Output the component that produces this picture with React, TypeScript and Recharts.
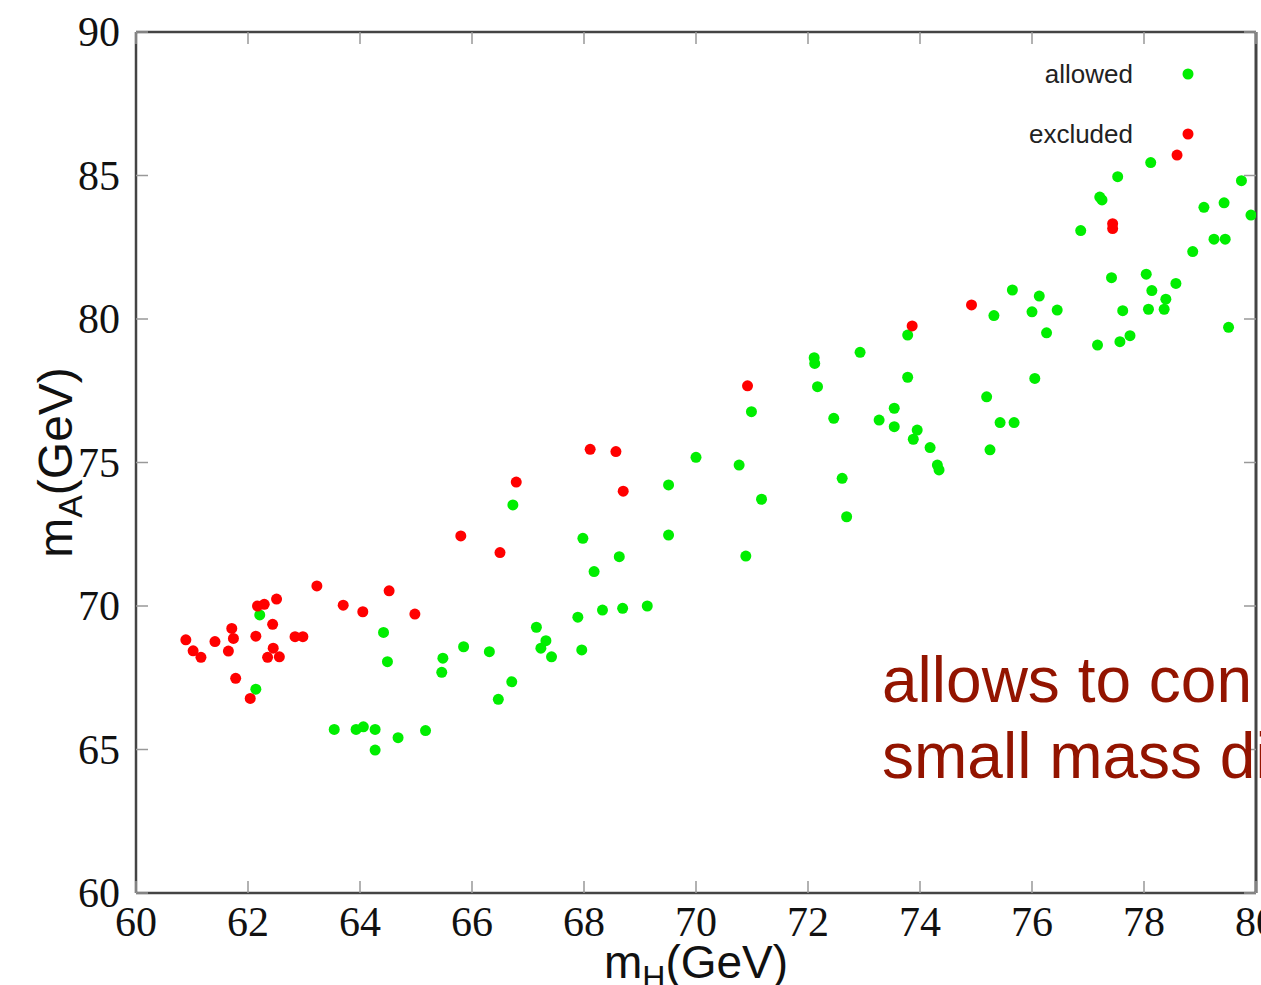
import React from "react";
import { ScatterChart, Scatter, XAxis, YAxis, Legend, Label } from "recharts";

// m_H (GeV) / m_A (GeV)
const allowedMH = [
  62.21, 62.14, 63.54, 63.93, 64.06, 64.27, 64.27, 64.68, 65.17, 64.42,
  64.49, 65.48, 65.46, 65.85, 66.31, 66.47, 66.71, 66.73, 67.15, 67.32,
  67.23, 67.42, 67.96, 67.89, 67.98, 68.18, 68.33, 68.63, 68.69, 69.13,
  69.51, 69.51, 70.0, 70.77, 70.89, 70.99, 71.17, 72.11, 72.12, 72.17,
  72.46, 72.61, 72.69, 72.93, 73.27, 73.54, 73.54, 73.78, 73.78, 73.95,
  73.88, 74.18, 74.31, 74.34, 75.19, 75.25, 75.32, 75.43, 75.65, 75.68,
  76.0, 76.05, 76.13, 76.26, 76.45, 76.87, 77.17, 77.21, 77.25, 77.42,
  77.53, 77.57, 77.62, 77.75, 78.04, 78.08, 78.12, 78.14, 78.36, 78.39,
  78.57, 78.87, 79.07, 79.25, 79.43, 79.45, 79.51, 79.74, 79.91,
];
const allowedMA = [
  69.69, 67.1, 65.7, 65.7, 65.79, 65.7, 64.98, 65.41, 65.66, 69.08,
  68.06, 68.18, 67.69, 68.58, 68.41, 66.75, 67.36, 73.52, 69.26, 68.79,
  68.53, 68.23, 68.47, 69.61, 72.36, 71.2, 69.86, 71.72, 69.92, 70.0,
  74.22, 72.47, 75.18, 74.91, 71.74, 76.77, 73.72, 78.65, 78.45, 77.64,
  76.54, 74.45, 73.11, 78.84, 76.48, 76.89, 76.25, 79.44, 77.97, 76.13,
  75.81, 75.52, 74.91, 74.74, 77.29, 75.44, 80.12, 76.39, 81.01, 76.39,
  80.25, 77.93, 80.8, 79.52, 80.31, 83.08, 79.09, 84.25, 84.15, 81.44,
  84.96, 79.21, 80.29, 79.42, 81.56, 80.34, 85.45, 80.99, 80.34, 80.69,
  81.24, 82.35, 83.89, 82.78, 84.05, 82.78, 79.71, 84.82, 83.62,
];
const excludedMH = [
  60.89, 61.02, 61.16, 61.41, 61.65, 61.71, 61.74, 61.78, 62.04, 62.14,
  62.17, 62.29, 62.44, 62.51, 62.35, 62.45, 62.56, 62.84, 62.98, 63.23,
  63.7, 64.05, 64.52, 64.98, 65.8, 66.5, 66.79, 68.11, 68.57, 68.7,
  70.92, 73.86, 74.92, 77.44, 77.44, 78.59,
];
const excludedMA = [
  68.82, 68.44, 68.21, 68.76, 68.43, 69.22, 68.87, 67.48, 66.78, 68.95,
  70.0, 70.06, 69.36, 70.24, 68.21, 68.53, 68.23, 68.93, 68.93, 70.7,
  70.03, 69.8, 70.53, 69.72, 72.44, 71.86, 74.32, 75.46, 75.38, 74.0,
  77.67, 79.76, 80.49, 83.32, 83.15, 85.71,
];

const xTicks = [60, 62, 64, 66, 68, 70, 72, 74, 76, 78, 80];
const yTicks = [60, 65, 70, 75, 80, 85, 90];

const allowed = allowedMH.map((mH, i) => ({ mH, mA: allowedMA[i] }));
const excluded = excludedMH.map((mH, i) => ({ mH, mA: excludedMA[i] }));

const GREEN = "#00ee00";
const RED = "#ff0000";
const FRAME = "#444";
const TICK = "#999";
const serif = "'Liberation Serif', 'DejaVu Serif', serif";
const sans = "'Liberation Sans', Arial, sans-serif";

const BottomTick = ({ x, y, payload }: any) => (
  <g>
    <line x1={x} y1={y} x2={x} y2={y - 12} stroke={TICK} strokeWidth={1.5} />
    <text x={x} y={y + 43} textAnchor="middle" fontFamily={serif} fontSize={42} fill="#111">
      {payload.value}
    </text>
  </g>
);

const LeftTick = ({ x, y, payload }: any) => (
  <g>
    <line x1={x} y1={y} x2={x + 12} y2={y} stroke={TICK} strokeWidth={1.5} />
    <text x={x - 16} y={y + 14} textAnchor="end" fontFamily={serif} fontSize={42} fill="#111">
      {payload.value}
    </text>
  </g>
);

// mirrored inward ticks on the top and right sides
const TopTick = ({ x, y }: any) => (
  <line x1={x} y1={y} x2={x} y2={y + 12} stroke={TICK} strokeWidth={1.5} />
);

const RightTick = ({ x, y }: any) => (
  <line x1={x} y1={y} x2={x - 12} y2={y} stroke={TICK} strokeWidth={1.5} />
);

const XTitle = ({ viewBox }: any) => {
  const cx = viewBox.x + viewBox.width / 2;
  return (
    <text x={cx} y={viewBox.y + 85} textAnchor="middle" fontFamily={sans} fontSize={46} fill="#111">
      m<tspan fontSize={32} dy={10}>H</tspan>
      <tspan dy={-10}>(GeV)</tspan>
    </text>
  );
};

const YTitle = ({ viewBox }: any) => {
  const cy = viewBox.y + viewBox.height / 2;
  const bx = 72;
  return (
    <text
      x={bx}
      y={cy}
      transform={`rotate(-90 ${bx} ${cy})`}
      textAnchor="middle"
      fontFamily={sans}
      fontSize={48}
      fill="#111"
    >
      m<tspan fontSize={34} dy={10}>A</tspan>
      <tspan dy={-10}>(GeV)</tspan>
    </text>
  );
};

const LegendBox = () => (
  <svg width={260} height={120}>
    <text x={173} y={43} textAnchor="end" fontFamily={sans} fontSize={26} fill="#222">
      allowed
    </text>
    <circle cx={228} cy={34} r={5.5} fill={GREEN} />
    <text x={173} y={103} textAnchor="end" fontFamily={sans} fontSize={26} fill="#222">
      excluded
    </text>
    <circle cx={228} cy={94} r={5.5} fill={RED} />
  </svg>
);

const dot = (fill: string) => (p: any) => <circle cx={p.cx} cy={p.cy} r={5.5} fill={fill} />;

export default function App() {
  return (
    <div
      style={{
        position: "absolute",
        left: 0,
        top: 0,
        width: 1261,
        height: 985,
        overflow: "hidden",
        background: "#fff",
      }}
    >
      <ScatterChart width={1300} height={985} margin={{ top: 31, right: 43, bottom: 0, left: 0 }}>
        <XAxis
          dataKey="mH"
          type="number"
          domain={[60, 80]}
          ticks={xTicks}
          allowDataOverflow
          height={92}
          tickSize={0}
          tickMargin={0}
          tickLine={false}
          axisLine={{ stroke: FRAME, strokeWidth: 2.5 }}
          tick={<BottomTick />}
          interval={0}
        >
          <Label content={<XTitle />} />
        </XAxis>
        <XAxis
          xAxisId="top"
          dataKey="mH"
          orientation="top"
          type="number"
          domain={[60, 80]}
          ticks={xTicks}
          allowDataOverflow
          height={1}
          tickSize={0}
          tickMargin={0}
          tickLine={false}
          axisLine={{ stroke: FRAME, strokeWidth: 2.5 }}
          tick={<TopTick />}
          interval={0}
        />
        <YAxis
          dataKey="mA"
          type="number"
          domain={[60, 90]}
          ticks={yTicks}
          allowDataOverflow
          width={136}
          tickSize={0}
          tickMargin={0}
          tickLine={false}
          axisLine={{ stroke: FRAME, strokeWidth: 2.5 }}
          tick={<LeftTick />}
          interval={0}
        >
          <Label content={<YTitle />} />
        </YAxis>
        <YAxis
          yAxisId="right"
          dataKey="mA"
          orientation="right"
          type="number"
          domain={[60, 90]}
          ticks={yTicks}
          allowDataOverflow
          width={1}
          tickSize={0}
          tickMargin={0}
          tickLine={false}
          axisLine={{ stroke: FRAME, strokeWidth: 3 }}
          tick={<RightTick />}
          interval={0}
        />
        <Legend
          layout="vertical"
          align="center"
          verticalAlign="middle"
          content={<LegendBox />}
          wrapperStyle={{ position: "absolute", left: 960, top: 40, width: 260, height: 120 }}
        />
        {/* invisible series so the mirrored top/right axes get drawn */}
        <Scatter
          xAxisId="top"
          yAxisId="right"
          data={excluded}
          shape={() => <g />}
          legendType="none"
          isAnimationActive={false}
        />
        <Scatter name="allowed" data={allowed} shape={dot(GREEN)} isAnimationActive={false} />
        <Scatter name="excluded" data={excluded} shape={dot(RED)} isAnimationActive={false} />
      </ScatterChart>
      <div
        style={{
          position: "absolute",
          left: 882,
          top: 642,
          fontFamily: sans,
          fontSize: 64,
          lineHeight: "76px",
          color: "#931400",
          whiteSpace: "nowrap",
          pointerEvents: "none",
        }}
      >
        allows to con
        <br />
        small mass di
      </div>
    </div>
  );
}
